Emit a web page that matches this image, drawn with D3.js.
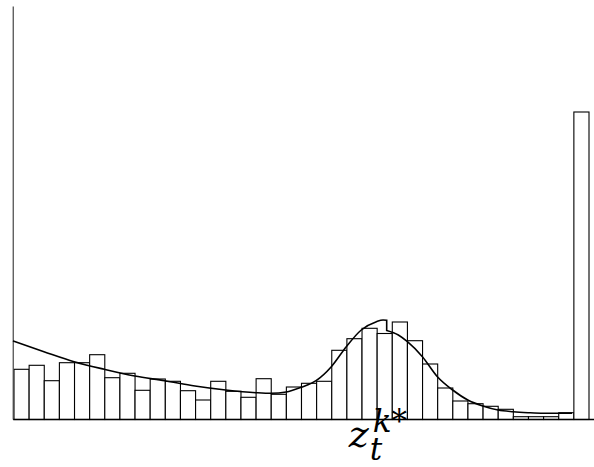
<!DOCTYPE html>
<html><head><meta charset="utf-8">
<script src="https://cdn.jsdelivr.net/npm/d3@7"></script>
<style>html,body{margin:0;padding:0;background:#fff;}svg{display:block;}</style>
</head><body>
<svg id="chart" width="594" height="467"></svg>
<script>
// Histogram bin counts (38 bins)
const binCounts = [50.2,54.2,38.8,56.8,56.8,64.8,41.8,46.2,29.2,40.5,38.2,28.8,19.5,38.2,28.2,22.2,40.8,25.2,32.5,36.2,38.2,69.2,80.8,91.2,86,97.5,78.8,55.5,31.5,18.5,15.8,13.2,10.2,2.8,2.8,2.8,6.8,307.5];
// Fitted density curve: left piece (up to the threshold) and right piece
const curveLeftX = [-0.07,1.98,3.97,5.97,7.98,9.96,11.96,13.99,16,17,17.99,18.97,19.96,20.97,21.96,22.95,23.95,24.39,24.63];
const curveLeftY = [78.5,67.8,57.8,50.2,43.5,38.8,33.5,29.5,26.8,26.2,27.5,32.2,38.8,52.8,72.8,89.5,97.8,99.5,99.3];
const curveRightX = [24.63,25.4,26,26.99,27.98,28.99,29.99,30.98,31.99,32.98,33.97,34.98,35.98,36.88];
const curveRightY = [89,84.5,77.8,62.8,42.8,29.5,19.5,13.5,9.5,7.8,6.8,6.2,6.2,6.2];
const labelMain = "z", labelSub = "t", labelSup = "k*";
const thresholdBin = 24.1;

const svg = d3.select("#chart");
const x = d3.scaleLinear().domain([0, binCounts.length]).range([14, 589]);
const y = d3.scaleLinear().domain([0, 413]).range([419.5, 6.5]);

// bars
svg.append("g").selectAll("rect").data(binCounts).join("rect")
  .attr("x", (d,i) => x(i))
  .attr("y", d => y(d))
  .attr("width", x(1) - x(0))
  .attr("height", d => y(0) - y(d))
  .attr("fill", "#fff")
  .attr("stroke", "#000")
  .attr("stroke-width", 1.1);

// axes lines
svg.append("line").attr("x1", x(-0.05)).attr("x2", x(-0.05)).attr("y1", y(0)).attr("y2", y(413))
  .attr("stroke", "#444").attr("stroke-width", 1.2);
svg.append("line").attr("x1", x(-0.05)).attr("x2", 594).attr("y1", y(0)).attr("y2", y(0))
  .attr("stroke", "#000").attr("stroke-width", 1.3);

// curve
const line = d3.line().x(d => x(d[0])).y(d => y(d[1])).curve(d3.curveMonotoneX);
const left = curveLeftX.map((v,i) => [v, curveLeftY[i]]);
const right = curveRightX.map((v,i) => [v, curveRightY[i]]);
const p = line(left) + line(right).replace(/^M/, "L");
svg.append("path").attr("d", p).attr("fill", "none").attr("stroke", "#000").attr("stroke-width", 1.6);

// label
const lx = x(thresholdBin);
const font = "'DejaVu Serif', serif";
svg.append("text").attr("x", lx - 30).attr("y", 446.5)
  .attr("font-family", font).attr("font-style", "italic").attr("font-size", 38).attr("fill","#000")
  .text(labelMain);
svg.append("text").attr("x", lx - 9).attr("y", 459.5)
  .attr("font-family", font).attr("font-style", "italic").attr("font-size", 31).attr("fill","#000")
  .text(labelSub);
svg.append("text").attr("x", lx - 6).attr("y", 431.5)
  .attr("font-family", font).attr("font-style", "italic").attr("font-size", 31).attr("fill","#000")
  .text(labelSup);
</script>
</body></html>
